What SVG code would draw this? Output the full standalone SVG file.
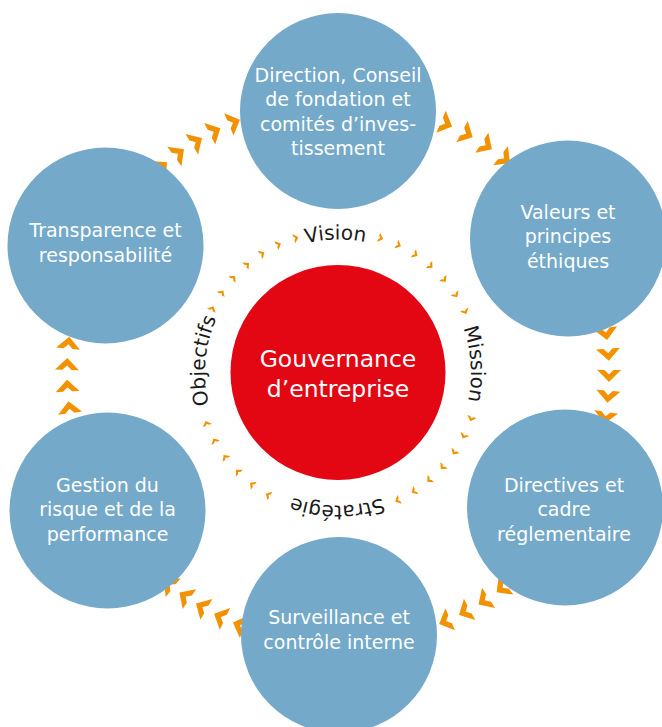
<svg xmlns="http://www.w3.org/2000/svg" xmlns:xlink="http://www.w3.org/1999/xlink" width="662" height="727" viewBox="0 0 662 727">
<style>
.node{fill:#74A9C9}
.lbl{font-family:"DejaVu Sans","Liberation Sans",sans-serif;font-size:19px;fill:#FFFFFF;text-anchor:middle}
.core{fill:#E30613}
.corelbl{font-family:"DejaVu Sans","Liberation Sans",sans-serif;font-size:23.5px;fill:#FFFFFF;text-anchor:middle}
.ring{font-family:"DejaVu Sans","Liberation Sans",sans-serif;font-size:20px;fill:#1A1A1A;text-anchor:middle}
.chev{fill:#F39200}
</style>
<defs>
<polygon id="chevShape" points="0,-8 12,4 4.5,4 0,-0.5 -4.5,4 -12,4"/>
<g id="bc"><use xlink:href="#chevShape" href="#chevShape" transform="translate(609 372.5) rotate(180)"/></g>
<g id="sc"><use xlink:href="#chevShape" href="#chevShape" transform="translate(479 372.5) rotate(180) scale(0.4)"/></g>
<path id="ringPath" d="M 243.95,278.45 A 133 133 0 1 1 432.05,466.55 A 133 133 0 1 1 243.95,278.45"/>
</defs>
<rect width="662" height="727" fill="#FFFFFF"/>

<g id="connectors" class="chev">
  <use href="#bc" transform="rotate(229.2 338 372.5)"/>
  <use href="#bc" transform="rotate(233.7 338 372.5)"/>
  <use href="#bc" transform="rotate(238.2 338 372.5)"/>
  <use href="#bc" transform="rotate(242.6 338 372.5)"/>
  <use href="#bc" transform="rotate(247.1 338 372.5)"/>

  <use href="#bc" transform="rotate(-71.3 338 372.5)"/>
  <use href="#bc" transform="rotate(-66.8 338 372.5)"/>
  <use href="#bc" transform="rotate(-61.9 338 372.5)"/>
  <use href="#bc" transform="rotate(-57.1 338 372.5)"/>
  <use href="#bc" transform="rotate(-52.3 338 372.5)"/>

  <use href="#bc" transform="rotate(-8.6 338 372.5)"/>
  <use href="#bc" transform="rotate(-4.2 338 372.5)"/>
  <use href="#bc" transform="rotate(0.3 338 372.5)"/>
  <use href="#bc" transform="rotate(4.7 338 372.5)"/>
  <use href="#bc" transform="rotate(9.2 338 372.5)"/>

  <use href="#bc" transform="rotate(52.5 338 372.5)"/>
  <use href="#bc" transform="rotate(57.1 338 372.5)"/>
  <use href="#bc" transform="rotate(61.8 338 372.5)"/>
  <use href="#bc" transform="rotate(66.4 338 372.5)"/>

  <use href="#bc" transform="rotate(111.1 338 372.5)"/>
  <use href="#bc" transform="rotate(115.5 338 372.5)"/>
  <use href="#bc" transform="rotate(119.9 338 372.5)"/>
  <use href="#bc" transform="rotate(124.1 338 372.5)"/>
  <use href="#bc" transform="rotate(128.3 338 372.5)"/>

  <use href="#bc" transform="rotate(172.2 338 372.5)"/>
  <use href="#bc" transform="rotate(176.8 338 372.5)"/>
  <use href="#bc" transform="rotate(181.4 338 372.5)"/>
  <use href="#bc" transform="rotate(185.9 338 372.5)"/>

  <use href="#sc" transform="rotate(-72.6 338 372.5)"/>
  <use href="#sc" transform="rotate(-64.8 338 372.5)"/>
  <use href="#sc" transform="rotate(-57 338 372.5)"/>
  <use href="#sc" transform="rotate(-49.2 338 372.5)"/>
  <use href="#sc" transform="rotate(-41.4 338 372.5)"/>
  <use href="#sc" transform="rotate(-33.6 338 372.5)"/>
  <use href="#sc" transform="rotate(-25.8 338 372.5)"/>

  <use href="#sc" transform="rotate(18.9 338 372.5)"/>
  <use href="#sc" transform="rotate(26.6 338 372.5)"/>
  <use href="#sc" transform="rotate(34.2 338 372.5)"/>
  <use href="#sc" transform="rotate(41.9 338 372.5)"/>
  <use href="#sc" transform="rotate(49.5 338 372.5)"/>
  <use href="#sc" transform="rotate(57.2 338 372.5)"/>
  <use href="#sc" transform="rotate(64.8 338 372.5)"/>

  <use href="#sc" transform="rotate(119.5 338 372.5)"/>
  <use href="#sc" transform="rotate(127.3 338 372.5)"/>
  <use href="#sc" transform="rotate(135.1 338 372.5)"/>
  <use href="#sc" transform="rotate(142.9 338 372.5)"/>
  <use href="#sc" transform="rotate(150.8 338 372.5)"/>
  <use href="#sc" transform="rotate(158.6 338 372.5)"/>

  <use href="#sc" transform="rotate(206.7 338 372.5)"/>
  <use href="#sc" transform="rotate(214.3 338 372.5)"/>
  <use href="#sc" transform="rotate(221.9 338 372.5)"/>
  <use href="#sc" transform="rotate(229.6 338 372.5)"/>
  <use href="#sc" transform="rotate(237.2 338 372.5)"/>
  <use href="#sc" transform="rotate(244.8 338 372.5)"/>
  <use href="#sc" transform="rotate(252.4 338 372.5)"/>
</g>

<g id="node-direction">
  <circle class="node" cx="338" cy="111" r="98"/>
  <text class="lbl" x="338" y="81.7">Direction, Conseil</text>
  <text class="lbl" x="338" y="106.2">de fondation et</text>
  <text class="lbl" x="338" y="130.7">comités d’inves-</text>
  <text class="lbl" x="338" y="155.2">tissement</text>
</g>

<g id="node-valeurs">
  <circle class="node" cx="568" cy="238.5" r="98"/>
  <text class="lbl" x="568" y="218.7">Valeurs et</text>
  <text class="lbl" x="568" y="243.2">principes</text>
  <text class="lbl" x="568" y="267.7">éthiques</text>
</g>

<g id="node-directives">
  <circle class="node" cx="565" cy="507.5" r="98"/>
  <text class="lbl" x="564" y="491.5">Directives et</text>
  <text class="lbl" x="564" y="516">cadre</text>
  <text class="lbl" x="564" y="540.5">réglementaire</text>
</g>

<g id="node-surveillance">
  <circle class="node" cx="339" cy="635" r="98"/>
  <text class="lbl" x="339" y="624">Surveillance et</text>
  <text class="lbl" x="339" y="649.3">contrôle interne</text>
</g>

<g id="node-gestion">
  <circle class="node" cx="107.5" cy="510.5" r="98"/>
  <text class="lbl" x="107.5" y="491.7">Gestion du</text>
  <text class="lbl" x="107.5" y="516.2">risque et de la</text>
  <text class="lbl" x="107.5" y="540.7">performance</text>
</g>

<g id="node-transparence">
  <circle class="node" cx="105.5" cy="245.5" r="98"/>
  <text class="lbl" x="105.5" y="236.7">Transparence et</text>
  <text class="lbl" x="105.5" y="261.7">responsabilité</text>
</g>

<g id="node-gouvernance">
  <circle class="core" cx="338" cy="372.5" r="107.5"/>
  <text class="corelbl" x="338" y="366.7">Gouvernance</text>
  <text class="corelbl" x="338" y="397">d’entreprise</text>
</g>

<g id="ring-labels">
  <text class="ring"><textPath href="#ringPath" startOffset="12.2%">Vision</textPath></text>
  <text class="ring"><textPath href="#ringPath" startOffset="36.5%">Mission</textPath></text>
  <text class="ring"><textPath href="#ringPath" startOffset="62.6%">Stratégie</textPath></text>
  <text class="ring"><textPath href="#ringPath" startOffset="88.9%">Objectifs</textPath></text>
</g>
</svg>
